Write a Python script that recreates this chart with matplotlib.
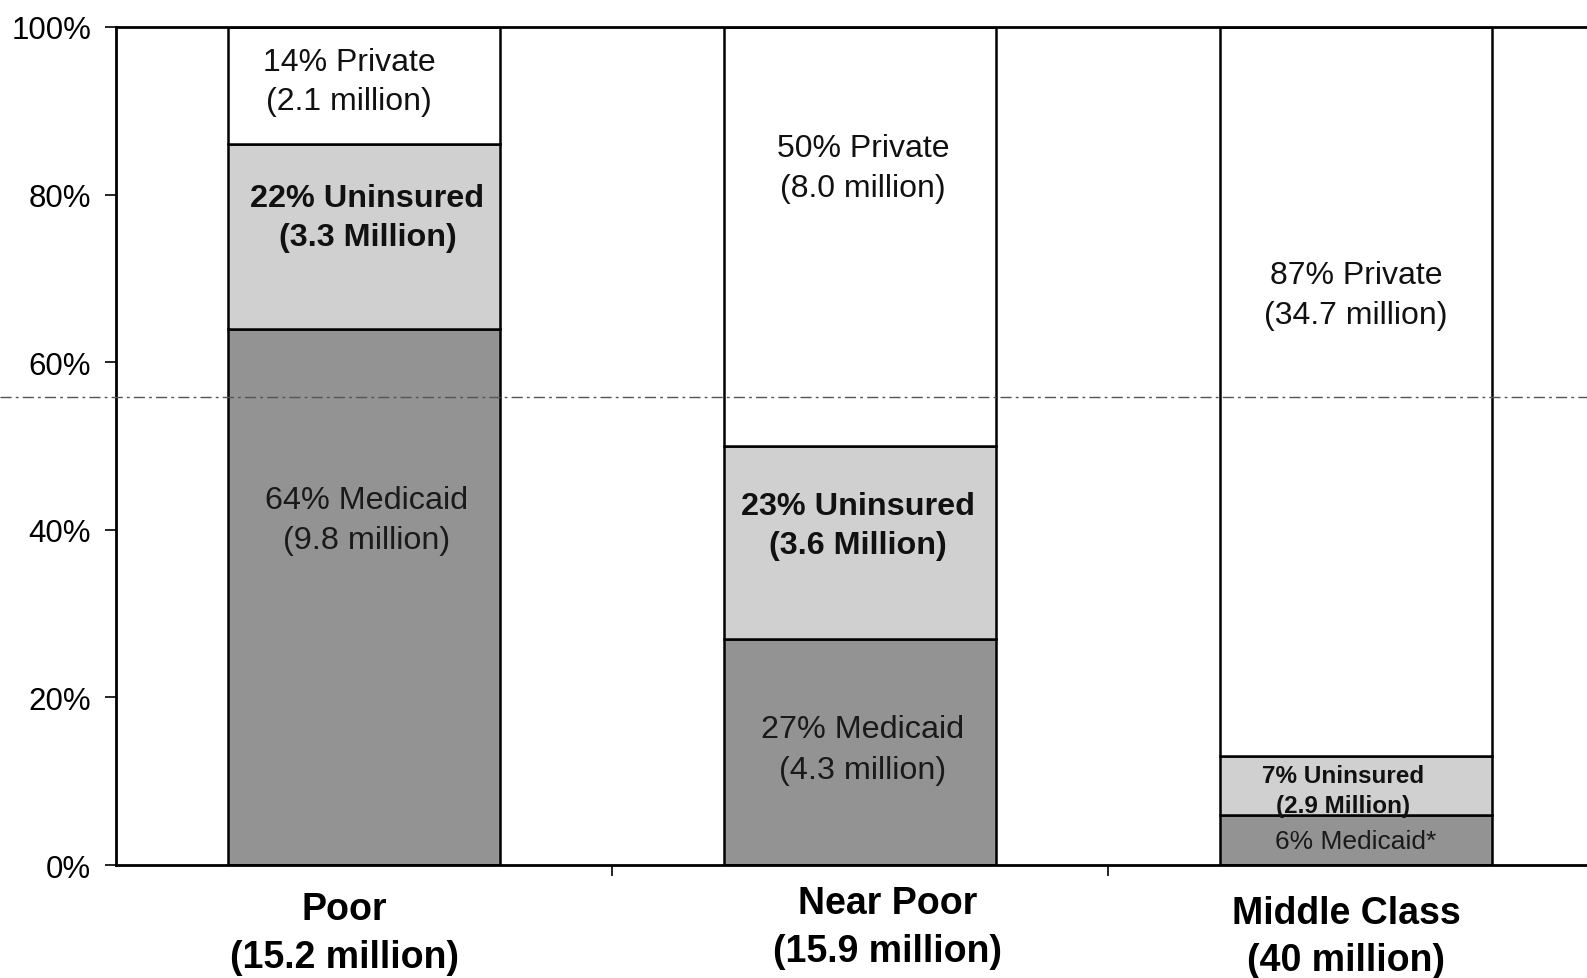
import matplotlib
matplotlib.use("Agg")
import matplotlib.pyplot as plt
from matplotlib.lines import Line2D

plt.rcParams['font.family'] = ['Liberation Sans', 'DejaVu Sans']

categories = ["Poor\n(15.2 million)", "Near Poor\n(15.9 million)", "Middle Class\n(40 million)"]
medicaid = [64, 27, 6]
uninsured = [22, 23, 7]
private = [14, 50, 87]
medicaid_labels = ["64% Medicaid\n(9.8 million)", "27% Medicaid\n(4.3 million)", "6% Medicaid*"]
uninsured_labels = ["22% Uninsured\n(3.3 Million)", "23% Uninsured\n(3.6 Million)", "7% Uninsured\n(2.9 Million)"]
private_labels = ["14% Private\n(2.1 million)", "50% Private\n(8.0 million)", "87% Private\n(34.7 million)"]
yticks = [0, 20, 40, 60, 80, 100]
ytick_labels = ["0%", "20%", "40%", "60%", "80%", "100%"]

fig = plt.figure(figsize=(15.87, 9.79), dpi=100)
ax = fig.add_axes([0.0731, 0.1154, 0.9269, 0.856])

x = list(range(len(categories)))
w = 0.55
c_med = "#939393"
c_unins = "#d0d0d0"
c_priv = "#ffffff"
ax.bar(x, medicaid, w, color=c_med, edgecolor="black", linewidth=1.8, zorder=2)
ax.bar(x, uninsured, w, bottom=medicaid, color=c_unins, edgecolor="black", linewidth=1.8, zorder=2)
bot2 = [m + u for m, u in zip(medicaid, uninsured)]
ax.bar(x, private, w, bottom=bot2, color=c_priv, edgecolor="black", linewidth=1.8, zorder=2)

ax.set_xlim(-0.5, 2.466)
ax.set_ylim(0, 100)
ax.set_yticks(yticks)
ax.set_yticklabels(ytick_labels, fontsize=22.5)
ax.tick_params(axis="y", length=8, width=1.2, pad=10)
ax.set_xticks([0.5, 1.5])
ax.set_xticklabels([])
ax.tick_params(axis="x", length=8, width=1.2, direction="out")
for s in ["left", "top", "bottom"]:
    ax.spines[s].set_linewidth(2)
ax.spines["right"].set_visible(False)

# in-bar labels
med_y = [41.2, 13.8, 2.9]
med_dx = [0.005, 0.006, 0.0]
uns_y = [77.3, 40.5, 8.9]
uns_dx = [0.007, -0.004, -0.025]
prv_y = [93.5, 83.2, 68.0]
prv_dx = [-0.03, 0.006, 0.0]
for i in x:
    small = (i == 2)
    ax.text(i + med_dx[i], med_y[i], medicaid_labels[i], ha="center", va="center",
            fontsize=19 if small else 23.3, color="#1a1a1a", linespacing=1.45, zorder=3)
    ax.text(i + uns_dx[i], uns_y[i], uninsured_labels[i], ha="center", va="center",
            fontsize=17.5 if small else 23.3, fontweight="bold", color="#111111",
            linespacing=1.38 if small else 1.4, zorder=3)
    ax.text(i + prv_dx[i], prv_y[i], private_labels[i], ha="center", va="center",
            fontsize=23, color="#111111", linespacing=1.42, zorder=3)

# category labels below
cat_dx = [-0.04, 0.056, -0.02]
cat_y = [-8.1, -7.4, -8.5]
for i in x:
    ax.text(i + cat_dx[i], cat_y[i], categories[i], ha="center", va="center",
            fontsize=27, fontweight="bold", linespacing=1.4, clip_on=False)

# faint horizontal scan line across figure
yl = 1 - 398 / 979
fig.add_artist(Line2D([0, 1], [yl, yl], transform=fig.transFigure, color="#555555",
                      linewidth=1.0, linestyle=(0, (8, 3, 2, 3)), zorder=1))

fig.savefig("out.png", dpi=100)
